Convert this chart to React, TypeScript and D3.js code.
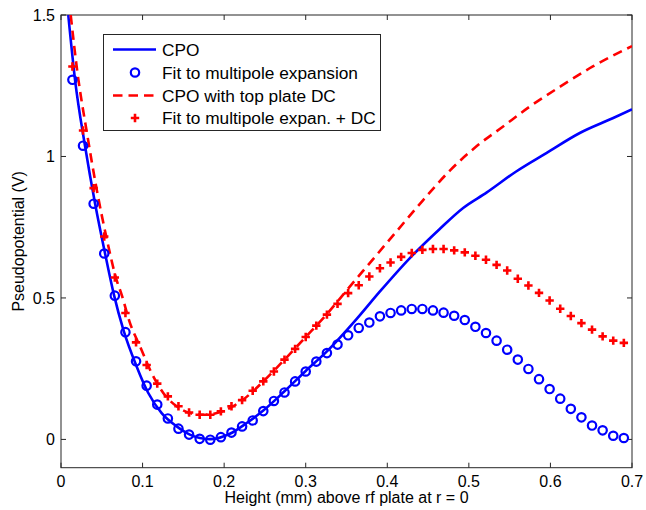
import React from "react";
import * as d3 from "d3";

// Fit marker heights (mm)
const fitX: number[] = Array.from({ length: 53 }, (_, i) => +(0.014 + 0.013 * i).toFixed(3));
const fitBlue: number[] = [
  1.271, 1.038, 0.833, 0.657, 0.508, 0.379, 0.276, 0.19, 0.123, 0.074,
  0.038, 0.017, 0.002, -0.001, 0.008, 0.024, 0.046, 0.067, 0.1, 0.136,
  0.166, 0.205, 0.24, 0.275, 0.305, 0.335, 0.368, 0.394, 0.413, 0.435,
  0.447, 0.456, 0.461, 0.461, 0.456, 0.448, 0.437, 0.422, 0.398, 0.376,
  0.349, 0.317, 0.282, 0.249, 0.213, 0.178, 0.144, 0.108, 0.078, 0.049,
  0.032, 0.013, 0.005,
];
const fitRed: number[] = [
  1.318, 1.092, 0.888, 0.717, 0.572, 0.447, 0.343, 0.263, 0.197, 0.152,
  0.117, 0.095, 0.087, 0.087, 0.099, 0.117, 0.139, 0.172, 0.205, 0.24,
  0.282, 0.32, 0.362, 0.402, 0.441, 0.479, 0.517, 0.545, 0.576, 0.605,
  0.625, 0.645, 0.659, 0.67, 0.673, 0.673, 0.668, 0.661, 0.649, 0.635,
  0.617, 0.597, 0.568, 0.544, 0.518, 0.491, 0.462, 0.436, 0.411, 0.388,
  0.364, 0.349, 0.341,
];

// CPO curve
const cpoX: number[] = [
  0.0089, 0.0172, 0.0294, 0.0417, 0.0539, 0.065, 0.0764, 0.0927, 0.107, 0.1234,
  0.1418, 0.158, 0.1826, 0.207, 0.2276, 0.248, 0.274, 0.3, 0.326, 0.362,
  0.391, 0.4277, 0.464, 0.493, 0.522, 0.558, 0.595, 0.636, 0.677, 0.7,
];
const cpoY: number[] = [
  1.5, 1.271, 1.038, 0.835, 0.659, 0.51, 0.388, 0.258, 0.164, 0.093,
  0.046, 0.017, 0.001, 0.02, 0.058, 0.102, 0.17, 0.242, 0.311, 0.424,
  0.523, 0.641, 0.743, 0.818, 0.873, 0.947, 1.012, 1.083, 1.136, 1.167,
];

// CPO with top plate DC
const dcX: number[] = [
  0.0119, 0.02, 0.032, 0.044, 0.056, 0.068, 0.0744, 0.0846, 0.0968, 0.111,
  0.1254, 0.1418, 0.158, 0.174, 0.191, 0.207, 0.223, 0.248, 0.274, 0.3,
  0.326, 0.352, 0.379, 0.411, 0.444, 0.477, 0.509, 0.542, 0.575, 0.612,
  0.652, 0.7,
];
const dcY: number[] = [
  1.5, 1.3, 1.08, 0.88, 0.71, 0.565, 0.511, 0.411, 0.329, 0.235,
  0.164, 0.117, 0.093, 0.087, 0.093, 0.111, 0.14, 0.205, 0.282, 0.362,
  0.443, 0.533, 0.625, 0.734, 0.846, 0.951, 1.035, 1.106, 1.177, 1.247,
  1.318, 1.39,
];

const xTicks: number[] = [0, 0.1, 0.2, 0.3, 0.4, 0.5, 0.6, 0.7];
const yTicks: number[] = [0, 0.5, 1, 1.5];
const legendLabels: string[] = [
  "CPO",
  "Fit to multipole expansion",
  "CPO with top plate DC",
  "Fit to multipole expan. + DC",
];

const BLUE = "#0000ff";
const RED = "#ff0000";
const FONT = "'Liberation Sans', Arial, Helvetica, sans-serif";

export default function App() {
  const W = 646;
  const H = 510;
  const L = 61, R = 632, T = 15, B = 467.7;
  const x = d3.scaleLinear().domain([0, 0.7]).range([L, R]);
  const y = d3.scaleLinear().domain([-0.1, 1.5]).range([B, T]);
  const line = d3
    .line<[number, number]>()
    .x((d) => x(d[0]))
    .y((d) => y(d[1]))
    .curve(d3.curveMonotoneX);
  const cpoPath = line(cpoX.map((v, i) => [v, cpoY[i]] as [number, number])) || "";
  const dcPath = line(dcX.map((v, i) => [v, dcY[i]] as [number, number])) || "";
  const tickLen = 5;
  const plus = (cx: number, cy: number, s: number) =>
    `M${cx - s},${cy}H${cx + s}M${cx},${cy - s}V${cy + s}`;

  const lgX = 103.5, lgY = 34.5, lgW = 277, lgH = 96;
  const rows = [49.5, 72.5, 95.5, 118];

  return (
    <svg width={W} height={H} style={{ position: "absolute", left: 0, top: 0, background: "#fff" }} fontFamily={FONT}>
      <rect x={0} y={0} width={W} height={H} fill="#fff" />
      <defs>
        <clipPath id="plotClip">
          <rect x={L} y={T} width={R - L} height={B - T} />
        </clipPath>
      </defs>
      {/* axes box */}
      <rect x={L} y={T} width={R - L} height={B - T} fill="none" stroke="#262626" strokeWidth={1} />
      {xTicks.map((t) => (
        <g key={"xt" + t}>
          <line x1={x(t)} x2={x(t)} y1={B} y2={B - tickLen} stroke="#262626" />
          <line x1={x(t)} x2={x(t)} y1={T} y2={T + tickLen} stroke="#262626" />
          <text x={x(t)} y={487} fontSize={16} textAnchor="middle" fill="#000">
            {t === 0 ? "0" : String(t)}
          </text>
        </g>
      ))}
      {yTicks.map((t) => (
        <g key={"yt" + t}>
          <line x1={L} x2={L + tickLen} y1={y(t)} y2={y(t)} stroke="#262626" />
          <line x1={R} x2={R - tickLen} y1={y(t)} y2={y(t)} stroke="#262626" />
          <text x={55} y={y(t) + 5.7} fontSize={16} textAnchor="end" fill="#000">
            {String(t)}
          </text>
        </g>
      ))}
      <text x={(L + R) / 2} y={503} fontSize={16} textAnchor="middle" fill="#000">
        Height (mm) above rf plate at r = 0
      </text>
      <text
        transform={`translate(24,${(T + B) / 2}) rotate(-90)`}
        fontSize={16}
        textAnchor="middle"
        fill="#000"
      >
        Pseudopotential (V)
      </text>

      <g clipPath="url(#plotClip)">
        <path d={cpoPath} fill="none" stroke={BLUE} strokeWidth={2.6} />
        <path d={dcPath} fill="none" stroke={RED} strokeWidth={2.6} strokeDasharray="9.5,6" />
        {fitX.map((v, i) => (
          <circle key={"c" + i} cx={x(v)} cy={y(fitBlue[i])} r={4.2} fill="none" stroke={BLUE} strokeWidth={2.2} />
        ))}
        {fitX.map((v, i) => (
          <path key={"p" + i} d={plus(x(v), y(fitRed[i]), 4.2)} fill="none" stroke={RED} strokeWidth={2.6} />
        ))}
      </g>

      {/* legend */}
      <rect x={lgX} y={lgY} width={lgW} height={lgH} fill="#fff" stroke="#262626" strokeWidth={1} />
      <line x1={113} x2={156} y1={rows[0]} y2={rows[0]} stroke={BLUE} strokeWidth={2.6} />
      <circle cx={135} cy={rows[1]} r={4.2} fill="none" stroke={BLUE} strokeWidth={2.2} />
      <line x1={113} x2={156} y1={rows[2]} y2={rows[2]} stroke={RED} strokeWidth={2.6} strokeDasharray="9.5,6" />
      <path d={plus(135, rows[3], 4.2)} fill="none" stroke={RED} strokeWidth={2.6} />
      {legendLabels.map((s, i) => (
        <text key={s} x={162} y={rows[i] + 6} fontSize={17.3} fill="#000">
          {s}
        </text>
      ))}
    </svg>
  );
}
